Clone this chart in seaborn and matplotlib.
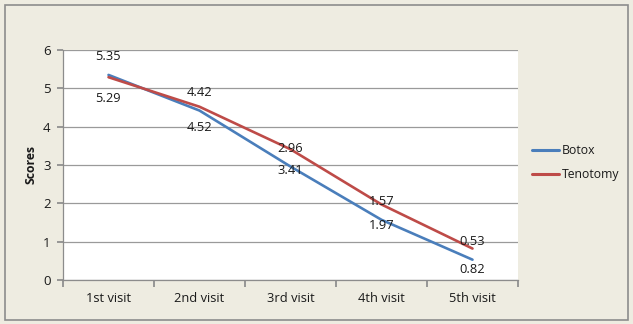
import matplotlib
matplotlib.use("Agg")
import matplotlib.pyplot as plt
import seaborn as sns
import pandas as pd
from matplotlib.patches import Rectangle

visits = ["1st visit", "2nd visit", "3rd visit", "4th visit", "5th visit"]
botox = [5.35, 4.42, 2.96, 1.57, 0.53]
tenotomy = [5.29, 4.52, 3.41, 1.97, 0.82]
series = ["Botox", "Tenotomy"]
colors = {"Botox": "#4A7EBB", "Tenotomy": "#BE4B48"}

df = pd.DataFrame({
    "visit": visits * 2,
    "score": botox + tenotomy,
    "series": ["Botox"] * 5 + ["Tenotomy"] * 5,
})
df["x"] = list(range(5)) * 2

sns.set_theme(style="white")
plt.rcParams["font.family"] = ["Open Sans", "DejaVu Sans"]

bg = "#EEECE1"
fs = 9.3
fig = plt.figure(figsize=(6.33, 3.24), dpi=100)
fig.patch.set_facecolor(bg)
fig.patches.append(Rectangle((5 / 633, 4 / 324), 623 / 633, 315 / 324,
                             transform=fig.transFigure, fill=False,
                             edgecolor="#8C8C8C", linewidth=1.2))
ax = fig.add_axes([63 / 633, 44 / 324, 455 / 633, 230 / 324])
ax.set_facecolor("white")

sns.lineplot(data=df, x="x", y="score", hue="series", palette=colors,
             hue_order=series, linewidth=1.9, ax=ax, legend=True)

ax.set_xlim(-0.5, 4.5)
ax.set_ylim(0, 6)
ax.set_yticks(range(0, 7))
ax.yaxis.grid(True, color="#9A9A9A", linewidth=0.9)
ax.set_axisbelow(True)
ax.set_xticks([i + 0.5 for i in range(-1, 5)])
ax.set_xticklabels([])
ax.set_xticks(range(5), minor=True)
ax.set_xticklabels(visits, minor=True, fontsize=fs, color="#1A1A1A")
ax.tick_params(axis="x", which="major", length=5, color="#8C8C8C", direction="out", bottom=True)
ax.tick_params(axis="x", which="minor", length=0, pad=9)
ax.tick_params(axis="y", length=4, color="#8C8C8C", direction="out", left=True,
               labelsize=9.5, labelcolor="#1A1A1A", pad=5)
for s in ["top", "right"]:
    ax.spines[s].set_visible(False)
for s in ["left", "bottom"]:
    ax.spines[s].set_color("#8C8C8C")
    ax.spines[s].set_linewidth(0.9)

ax.set_xlabel("")
ax.set_ylabel("Scores", fontsize=8.8, fontweight="bold", labelpad=4, color="#1A1A1A")

for i, v in enumerate(botox):
    ax.annotate(f"{v:.2f}", (i, v), xytext=(0, 13), textcoords="offset points",
                ha="center", va="center", fontsize=fs, color="#1A1A1A")
for i, v in enumerate(tenotomy):
    ax.annotate(f"{v:.2f}", (i, v), xytext=(0, -15), textcoords="offset points",
                ha="center", va="center", fontsize=fs, color="#1A1A1A")

leg = ax.legend(loc="center left", bbox_to_anchor=(1.013, 0.51), frameon=False,
                fontsize=8.8, handlelength=2.2, handletextpad=0.2, labelspacing=0.9,
                borderaxespad=0.3)
for t in leg.get_texts():
    t.set_color("#1A1A1A")
for line in leg.get_lines():
    line.set_linewidth(2.2)

fig.savefig("out.png", dpi=100, facecolor=bg)
